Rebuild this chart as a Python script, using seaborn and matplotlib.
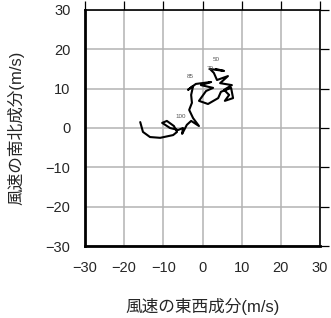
import matplotlib
matplotlib.use("Agg")
import matplotlib.pyplot as plt
import seaborn as sns
import pandas as pd

# Hodograph wind components (m/s)
u_wind = [3.4, 5.5, 1.9, 2.9, 3.7, 6.5, 4.5, 7.5, 5.5, 6.8, 5.7, 7.8, 7.3, 4.7,
          4.0, 1.4, -0.9, 0.9, 2.7, -0.4, 2.2, -1.7, -3.7, -2.4, -2.9, -2.7,
          -3.4, -2.4, -0.9, -2.9, -4.0, -5.2, -5.0, -6.2, -8.3, -10.3, -9.1,
          -7.3, -6.5, -7.5, -10.8, -13.4, -15.2, -15.9]
v_wind = [15.0, 14.5, 15.0, 14.0, 12.2, 13.2, 11.4, 10.9, 9.7, 8.4, 6.9, 7.6,
          10.2, 9.2, 7.6, 6.1, 6.9, 9.4, 10.2, 10.9, 11.7, 11.2, 9.7, 10.7,
          8.4, 6.4, 4.6, 2.5, 0.5, 1.8, 0.8, -1.5, 0.0, -0.5, 0.0, 1.3, 1.8,
          0.5, -1.0, -1.8, -2.5, -2.3, -1.0, 1.5]
label_text = ["50", "70", "85", "100"]
label_u = [3.6, 1.9, -3.2, -5.6]
label_v = [17.3, 15.2, 13.2, 2.9]
ticks = [-30, -20, -10, 0, 10, 20, 30]
tick_labels = ["\u221230", "\u221220", "\u221210", "0", "10", "20", "30"]

df = pd.DataFrame({"u": u_wind, "v": v_wind})

sns.set_style("white")
plt.rcParams['font.family'] = ['Liberation Sans', 'Noto Sans CJK JP', 'DejaVu Sans']

fig = plt.figure(figsize=(3.31, 3.18), dpi=100)
ax = fig.add_axes([0.2568, 0.2264, 0.71, 0.7422])

sns.lineplot(data=df, x="u", y="v", sort=False, estimator=None,
             color="black", linewidth=1.5, ax=ax, zorder=3)

for t, x, y in zip(label_text, label_u, label_v):
    ax.text(x, y, t, fontsize=4.5, color="#555555", ha="center", va="center", zorder=4)

ax.set_xlim(-30, 30)
ax.set_ylim(-30, 30)
ax.set_xticks(ticks)
ax.set_yticks(ticks)
ax.set_xticklabels(tick_labels)
ax.set_yticklabels(tick_labels)
ax.grid(True, color="#b3b3b3", linewidth=1.1)
ax.set_axisbelow(True)

ax.tick_params(axis="both", which="both", direction="out", length=6.5, width=0.9,
               color="black", labelsize=10.5, pad=4, top=True, right=True,
               labeltop=False, labelright=False)

for side in ["left", "bottom"]:
    ax.spines[side].set_linewidth(2.0)
    ax.spines[side].set_color("black")
for side in ["top", "right"]:
    ax.spines[side].set_linewidth(1.2)
    ax.spines[side].set_color("black")
    ax.spines[side].set_visible(True)

ax.set_xlabel("風速の東西成分(m/s)", fontsize=12, labelpad=17)
ax.set_ylabel("風速の南北成分(m/s)", fontsize=12, labelpad=15)

fig.savefig("out.png", dpi=100)
